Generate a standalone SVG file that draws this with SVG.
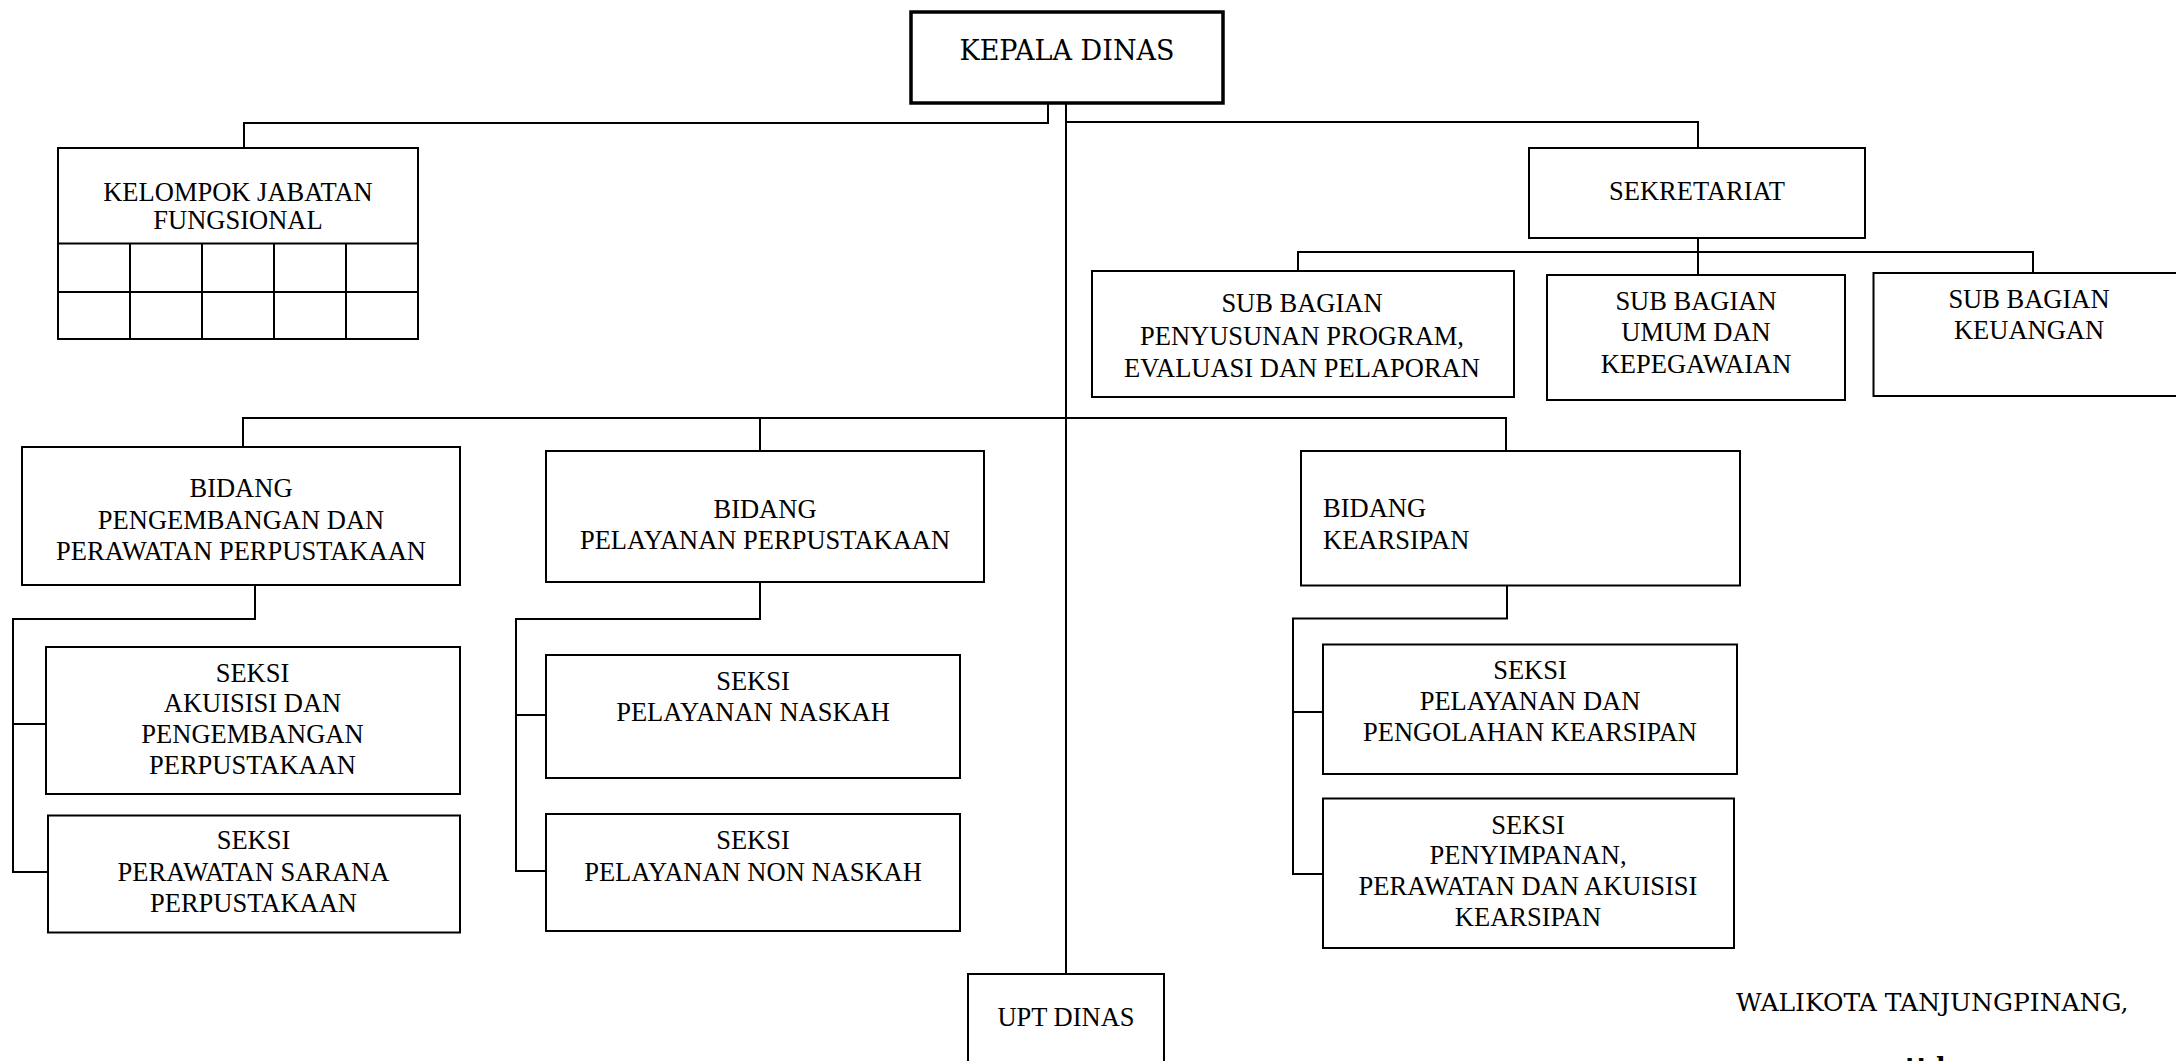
<svg xmlns="http://www.w3.org/2000/svg" width="2176" height="1061" viewBox="0 0 2176 1061">
<style>
.box{fill:#fff;stroke:#000;stroke-width:2}
.thick{stroke-width:3.5}
.conn{fill:none;stroke:#000;stroke-width:2}
.t{font-family:"Liberation Serif","Times New Roman",serif;font-size:26.5px;fill:#000;text-anchor:middle}
.tl{text-anchor:start}
.bk{font-family:"DejaVu Serif","Liberation Serif",serif;fill:#000}
</style>
<rect width="2176" height="1061" fill="#fff"/>
<g id="connectors">
<path class="conn" d="M1048,103 V123 H244 V148"/>
<path class="conn" d="M1066,103 V974"/>
<path class="conn" d="M1066,122 H1698 V148"/>
<path class="conn" d="M1698,238 V275"/>
<path class="conn" d="M1298,271 V252 H2033 V273"/>
<path class="conn" d="M243,447 V418 H1506 V451"/>
<path class="conn" d="M760,418 V451"/>
<path class="conn" d="M255,585 V619 H13 V872 H48"/>
<path class="conn" d="M13,724 H46"/>
<path class="conn" d="M760,582 V619 H516 V871 H546"/>
<path class="conn" d="M516,715 H546"/>
<path class="conn" d="M1507,585 V618.5 H1293 V874 H1323"/>
<path class="conn" d="M1293,712 H1323"/>
</g>
<g id="kepala-dinas">
<rect class="box thick" x="911" y="12" width="312" height="91"/>
<text class="bk" x="1067" y="60" font-size="27" text-anchor="middle">KEPALA DINAS</text>
</g>
<g id="kelompok-jabatan-fungsional">
<rect class="box" x="58" y="148" width="360" height="191"/>
<path class="conn" d="M58,243.5 H418 M58,292 H418 M130,243.5 V339 M202,243.5 V339 M274,243.5 V339 M346,243.5 V339"/>
<text class="t" x="238" y="201">KELOMPOK JABATAN</text>
<text class="t" x="238" y="229">FUNGSIONAL</text>
</g>
<g id="sekretariat">
<rect class="box" x="1529" y="148" width="336" height="90"/>
<text class="t" x="1697" y="200">SEKRETARIAT</text>
</g>
<g id="sub-bagian-penyusunan">
<rect class="box" x="1092" y="271" width="422" height="126"/>
<text class="t" x="1302" y="312">SUB BAGIAN</text>
<text class="t" x="1302" y="345">PENYUSUNAN PROGRAM,</text>
<text class="t" x="1302" y="377">EVALUASI DAN PELAPORAN</text>
</g>
<g id="sub-bagian-umum">
<rect class="box" x="1547" y="275" width="298" height="125"/>
<text class="t" x="1696" y="309.5">SUB BAGIAN</text>
<text class="t" x="1696" y="341">UMUM DAN</text>
<text class="t" x="1696" y="372.5">KEPEGAWAIAN</text>
</g>
<g id="sub-bagian-keuangan">
<rect class="box" x="1873.5" y="273" width="312" height="123"/>
<text class="t" x="2029" y="308">SUB BAGIAN</text>
<text class="t" x="2029" y="339">KEUANGAN</text>
</g>
<g id="bidang-pengembangan">
<rect class="box" x="22" y="447" width="438" height="138"/>
<text class="t" x="241" y="497">BIDANG</text>
<text class="t" x="241" y="528.5">PENGEMBANGAN DAN</text>
<text class="t" x="241" y="559.5">PERAWATAN PERPUSTAKAAN</text>
</g>
<g id="bidang-pelayanan">
<rect class="box" x="546" y="451" width="438" height="131"/>
<text class="t" x="765" y="518">BIDANG</text>
<text class="t" x="765" y="549">PELAYANAN PERPUSTAKAAN</text>
</g>
<g id="bidang-kearsipan">
<rect class="box" x="1301" y="451" width="439" height="134.5"/>
<text class="t tl" x="1323" y="517">BIDANG</text>
<text class="t tl" x="1323" y="548.5">KEARSIPAN</text>
</g>
<g id="seksi-akuisisi">
<rect class="box" x="46" y="647" width="414" height="147"/>
<text class="t" x="252.5" y="681.5">SEKSI</text>
<text class="t" x="252.5" y="712">AKUISISI DAN</text>
<text class="t" x="252.5" y="743">PENGEMBANGAN</text>
<text class="t" x="252.5" y="774">PERPUSTAKAAN</text>
</g>
<g id="seksi-perawatan-sarana">
<rect class="box" x="48" y="815.5" width="412" height="117"/>
<text class="t" x="253.5" y="849">SEKSI</text>
<text class="t" x="253.5" y="880.5">PERAWATAN SARANA</text>
<text class="t" x="253.5" y="911.5">PERPUSTAKAAN</text>
</g>
<g id="seksi-pelayanan-naskah">
<rect class="box" x="546" y="655" width="414" height="123"/>
<text class="t" x="753" y="690">SEKSI</text>
<text class="t" x="753" y="721">PELAYANAN NASKAH</text>
</g>
<g id="seksi-pelayanan-non-naskah">
<rect class="box" x="546" y="814" width="414" height="117"/>
<text class="t" x="753" y="849">SEKSI</text>
<text class="t" x="753" y="880.5">PELAYANAN NON NASKAH</text>
</g>
<g id="seksi-pelayanan-pengolahan-kearsipan">
<rect class="box" x="1323" y="644.5" width="414" height="129.5"/>
<text class="t" x="1530" y="679">SEKSI</text>
<text class="t" x="1530" y="710">PELAYANAN DAN</text>
<text class="t" x="1530" y="741">PENGOLAHAN KEARSIPAN</text>
</g>
<g id="seksi-penyimpanan">
<rect class="box" x="1323" y="798.5" width="411" height="149.5"/>
<text class="t" x="1528" y="833.5">SEKSI</text>
<text class="t" x="1528" y="864">PENYIMPANAN,</text>
<text class="t" x="1528" y="895">PERAWATAN DAN AKUISISI</text>
<text class="t" x="1528" y="926">KEARSIPAN</text>
</g>
<g id="upt-dinas">
<rect class="box" x="968" y="974" width="196" height="110"/>
<text class="t" x="1066" y="1026">UPT DINAS</text>
</g>
<g id="signature">
<text class="bk" x="1736" y="1011" font-size="25">WALIKOTA TANJUNGPINANG,</text>
<text class="bk" x="1905" y="1075" font-size="25" font-weight="bold">ttd</text>
</g>
</svg>
